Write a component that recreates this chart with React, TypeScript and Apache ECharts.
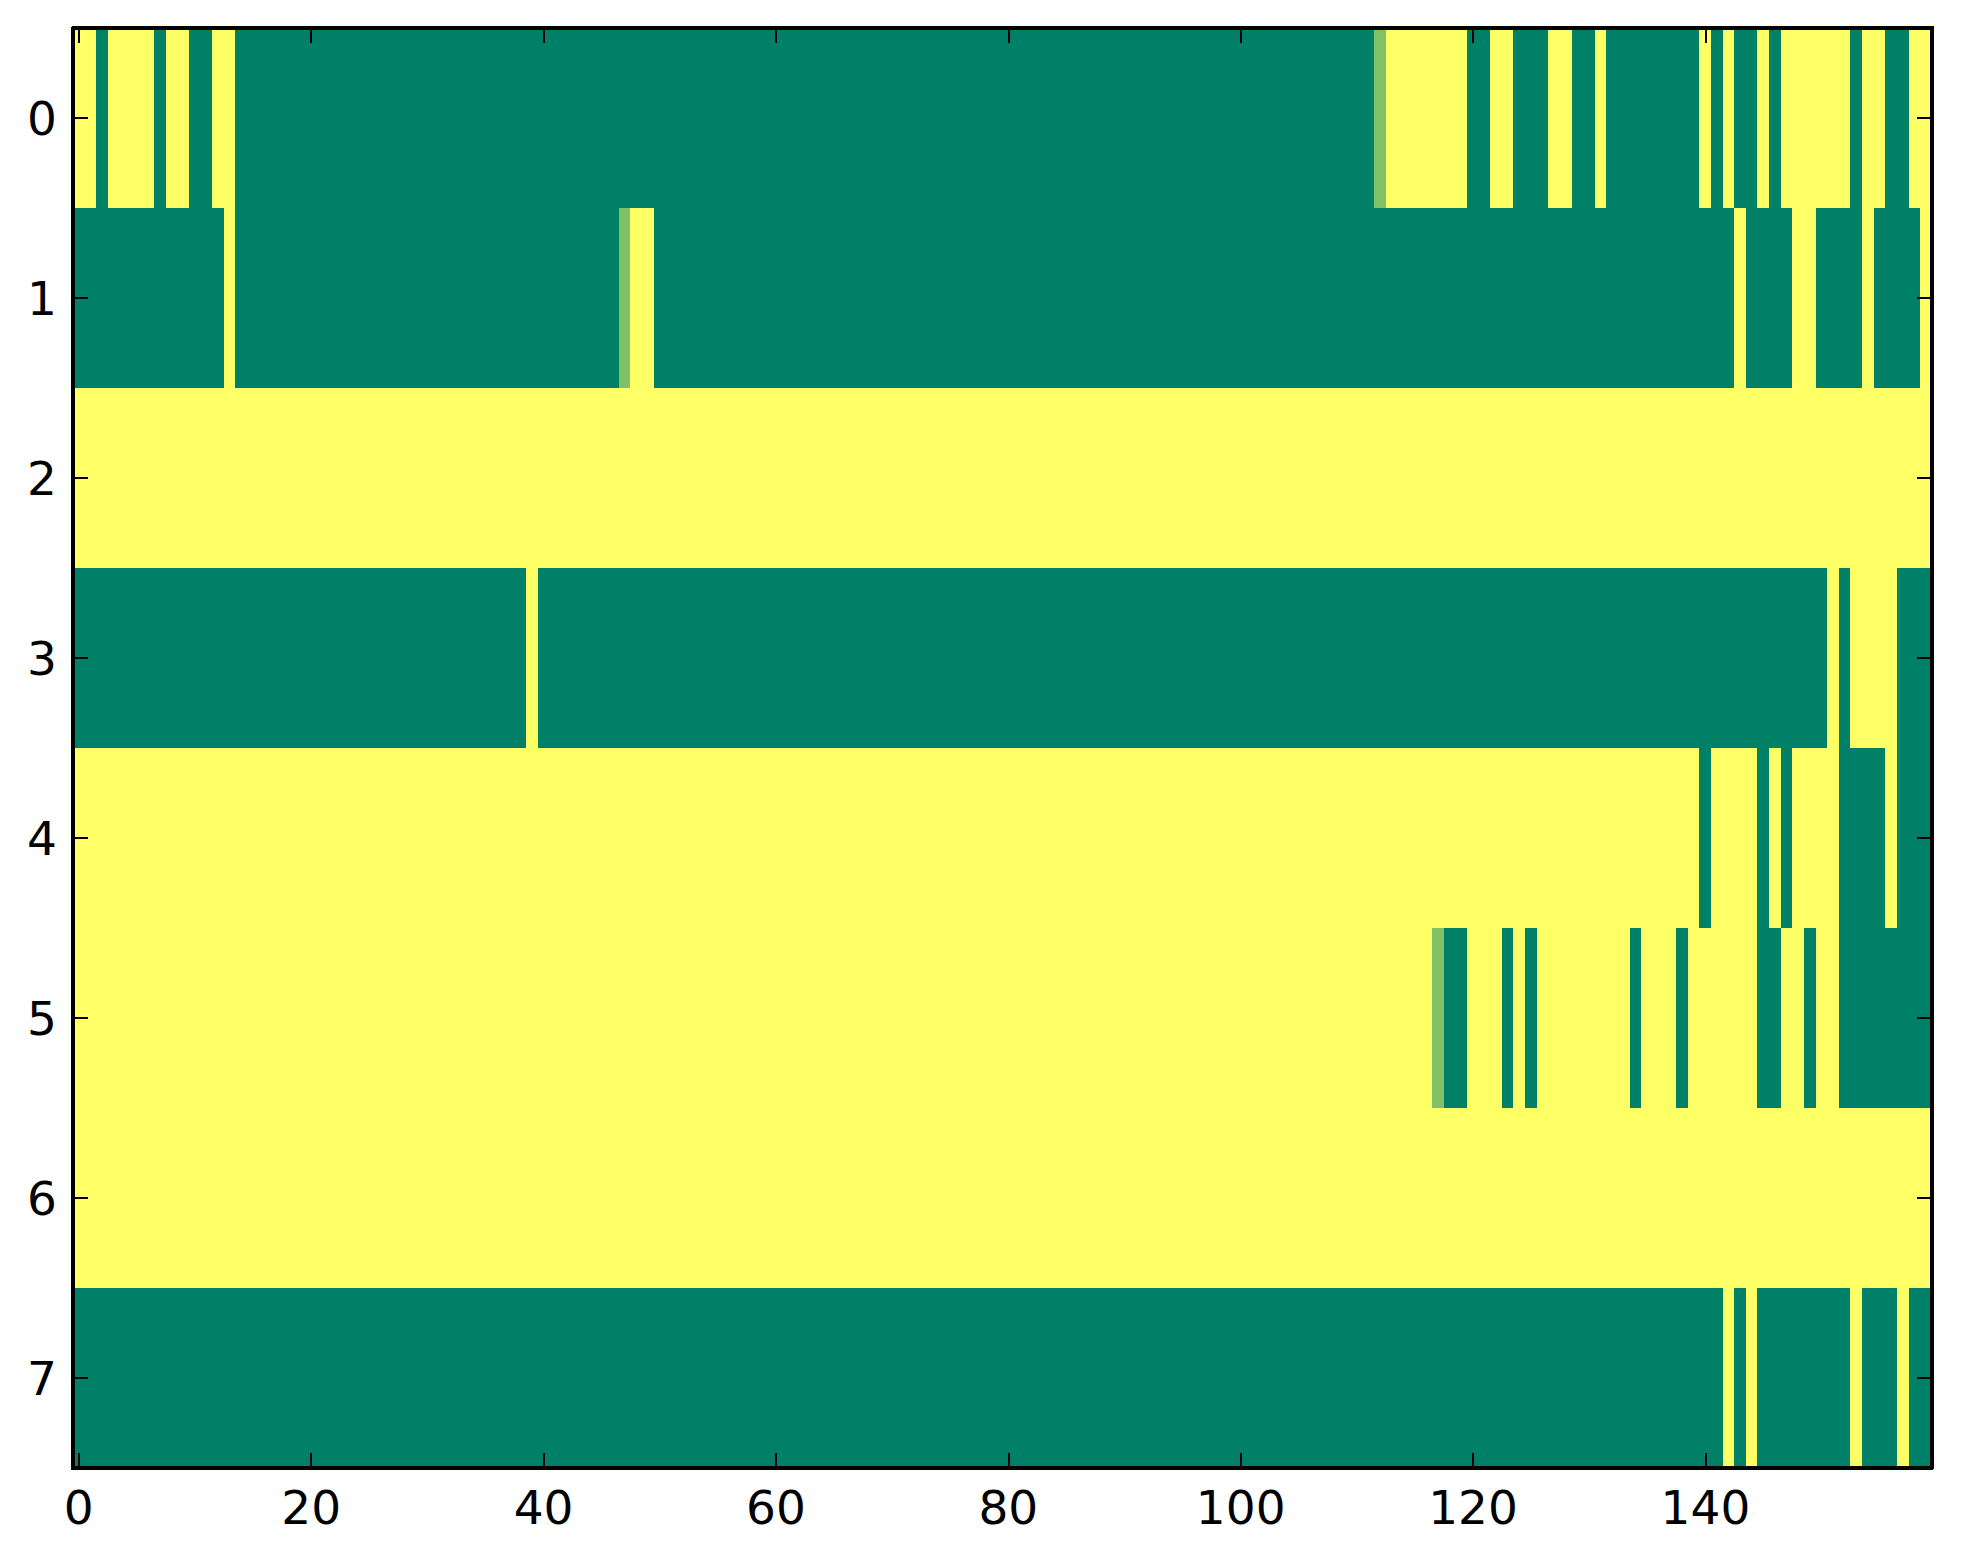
import React, { useEffect, useRef } from "react";
import * as echarts from "echarts";

// 160 columns (0..159), 8 rows (0..7). 1 = high (yellow), 0 = low (green), 0.5 = middle.
const xCategories: string[] = Array.from({ length: 160 }, (_, i) => String(i));
const yCategories: string[] = ["0", "1", "2", "3", "4", "5", "6", "7"];
const xTickLabels: number[] = [0, 20, 40, 60, 80, 100, 120, 140];

const row0: number[] = [
  1,1,0,1,1,1,1,0,1,1,0,0,1,1,0,0,0,0,0,0,
  0,0,0,0,0,0,0,0,0,0,0,0,0,0,0,0,0,0,0,0,
  0,0,0,0,0,0,0,0,0,0,0,0,0,0,0,0,0,0,0,0,
  0,0,0,0,0,0,0,0,0,0,0,0,0,0,0,0,0,0,0,0,
  0,0,0,0,0,0,0,0,0,0,0,0,0,0,0,0,0,0,0,0,
  0,0,0,0,0,0,0,0,0,0,0,0,0.5,1,1,1,1,1,1,1,
  0,0,1,1,0,0,0,1,1,0,0,1,0,0,0,0,0,0,0,0,
  1,0,1,0,0,1,0,1,1,1,1,1,1,0,1,1,0,0,1,1,
];
const row1: number[] = [
  0,0,0,0,0,0,0,0,0,0,0,0,0,1,0,0,0,0,0,0,
  0,0,0,0,0,0,0,0,0,0,0,0,0,0,0,0,0,0,0,0,
  0,0,0,0,0,0,0,0.5,1,1,0,0,0,0,0,0,0,0,0,0,
  0,0,0,0,0,0,0,0,0,0,0,0,0,0,0,0,0,0,0,0,
  0,0,0,0,0,0,0,0,0,0,0,0,0,0,0,0,0,0,0,0,
  0,0,0,0,0,0,0,0,0,0,0,0,0,0,0,0,0,0,0,0,
  0,0,0,0,0,0,0,0,0,0,0,0,0,0,0,0,0,0,0,0,
  0,0,0,1,0,0,0,0,1,1,0,0,0,0,1,0,0,0,0,1,
];
const row2: number[] = [
  1,1,1,1,1,1,1,1,1,1,1,1,1,1,1,1,1,1,1,1,
  1,1,1,1,1,1,1,1,1,1,1,1,1,1,1,1,1,1,1,1,
  1,1,1,1,1,1,1,1,1,1,1,1,1,1,1,1,1,1,1,1,
  1,1,1,1,1,1,1,1,1,1,1,1,1,1,1,1,1,1,1,1,
  1,1,1,1,1,1,1,1,1,1,1,1,1,1,1,1,1,1,1,1,
  1,1,1,1,1,1,1,1,1,1,1,1,1,1,1,1,1,1,1,1,
  1,1,1,1,1,1,1,1,1,1,1,1,1,1,1,1,1,1,1,1,
  1,1,1,1,1,1,1,1,1,1,1,1,1,1,1,1,1,1,1,1,
];
const row3: number[] = [
  0,0,0,0,0,0,0,0,0,0,0,0,0,0,0,0,0,0,0,0,
  0,0,0,0,0,0,0,0,0,0,0,0,0,0,0,0,0,0,0,1,
  0,0,0,0,0,0,0,0,0,0,0,0,0,0,0,0,0,0,0,0,
  0,0,0,0,0,0,0,0,0,0,0,0,0,0,0,0,0,0,0,0,
  0,0,0,0,0,0,0,0,0,0,0,0,0,0,0,0,0,0,0,0,
  0,0,0,0,0,0,0,0,0,0,0,0,0,0,0,0,0,0,0,0,
  0,0,0,0,0,0,0,0,0,0,0,0,0,0,0,0,0,0,0,0,
  0,0,0,0,0,0,0,0,0,0,0,1,0,1,1,1,1,0,0,0,
];
const row4: number[] = [
  1,1,1,1,1,1,1,1,1,1,1,1,1,1,1,1,1,1,1,1,
  1,1,1,1,1,1,1,1,1,1,1,1,1,1,1,1,1,1,1,1,
  1,1,1,1,1,1,1,1,1,1,1,1,1,1,1,1,1,1,1,1,
  1,1,1,1,1,1,1,1,1,1,1,1,1,1,1,1,1,1,1,1,
  1,1,1,1,1,1,1,1,1,1,1,1,1,1,1,1,1,1,1,1,
  1,1,1,1,1,1,1,1,1,1,1,1,1,1,1,1,1,1,1,1,
  1,1,1,1,1,1,1,1,1,1,1,1,1,1,1,1,1,1,1,1,
  0,1,1,1,1,0,1,0,1,1,1,1,0,0,0,0,1,0,0,0,
];
const row5: number[] = [
  1,1,1,1,1,1,1,1,1,1,1,1,1,1,1,1,1,1,1,1,
  1,1,1,1,1,1,1,1,1,1,1,1,1,1,1,1,1,1,1,1,
  1,1,1,1,1,1,1,1,1,1,1,1,1,1,1,1,1,1,1,1,
  1,1,1,1,1,1,1,1,1,1,1,1,1,1,1,1,1,1,1,1,
  1,1,1,1,1,1,1,1,1,1,1,1,1,1,1,1,1,1,1,1,
  1,1,1,1,1,1,1,1,1,1,1,1,1,1,1,1,1,0.5,0,0,
  1,1,1,0,1,0,1,1,1,1,1,1,1,1,0,1,1,1,0,1,
  1,1,1,1,1,0,0,1,1,0,1,1,0,0,0,0,0,0,0,0,
];
const row6: number[] = [
  1,1,1,1,1,1,1,1,1,1,1,1,1,1,1,1,1,1,1,1,
  1,1,1,1,1,1,1,1,1,1,1,1,1,1,1,1,1,1,1,1,
  1,1,1,1,1,1,1,1,1,1,1,1,1,1,1,1,1,1,1,1,
  1,1,1,1,1,1,1,1,1,1,1,1,1,1,1,1,1,1,1,1,
  1,1,1,1,1,1,1,1,1,1,1,1,1,1,1,1,1,1,1,1,
  1,1,1,1,1,1,1,1,1,1,1,1,1,1,1,1,1,1,1,1,
  1,1,1,1,1,1,1,1,1,1,1,1,1,1,1,1,1,1,1,1,
  1,1,1,1,1,1,1,1,1,1,1,1,1,1,1,1,1,1,1,1,
];
const row7: number[] = [
  0,0,0,0,0,0,0,0,0,0,0,0,0,0,0,0,0,0,0,0,
  0,0,0,0,0,0,0,0,0,0,0,0,0,0,0,0,0,0,0,0,
  0,0,0,0,0,0,0,0,0,0,0,0,0,0,0,0,0,0,0,0,
  0,0,0,0,0,0,0,0,0,0,0,0,0,0,0,0,0,0,0,0,
  0,0,0,0,0,0,0,0,0,0,0,0,0,0,0,0,0,0,0,0,
  0,0,0,0,0,0,0,0,0,0,0,0,0,0,0,0,0,0,0,0,
  0,0,0,0,0,0,0,0,0,0,0,0,0,0,0,0,0,0,0,0,
  0,0,1,0,1,0,0,0,0,0,0,0,0,1,0,0,0,1,0,0,
];
const rows: number[][] = [row0, row1, row2, row3, row4, row5, row6, row7];

const LOW = "#008066";
const HIGH = "#ffff66";

export default function App() {
  const ref = useRef<HTMLDivElement>(null);
  useEffect(() => {
    if (!ref.current) return;
    const chart = echarts.init(ref.current, undefined, { renderer: "svg" });
    const data: [number, number, number][] = [];
    rows.forEach((r, y) => r.forEach((v, x) => data.push([x, y, v])));
    const tickSet = new Set(xTickLabels.map(String));
    const font = { fontSize: 47, color: "#000", fontFamily: "DejaVu Sans" };
    const lineStyle = { color: "#000", width: 4 };
    const tickStyle = { color: "#000", width: 2 };
    const xShow = (_i: number, v: string) => tickSet.has(v);
    const xAxisBase = (pos: "bottom" | "top", labels: boolean) => ({
      type: "category",
      data: xCategories,
      position: pos,
      z: 10,
      axisLine: { show: true, onZero: false, lineStyle },
      axisTick: { show: true, inside: true, length: 15, alignWithLabel: true, interval: xShow, lineStyle: tickStyle },
      axisLabel: { show: labels, interval: xShow, margin: 16, ...font },
      splitLine: { show: false },
    });
    const yAxisBase = (pos: "left" | "right", labels: boolean) => ({
      type: "category",
      data: yCategories,
      position: pos,
      inverse: true,
      z: 10,
      axisLine: { show: true, onZero: false, lineStyle },
      axisTick: { show: true, inside: true, length: 15, alignWithLabel: true, interval: 0, lineStyle: tickStyle },
      axisLabel: { show: labels, interval: 0, margin: 16, ...font },
      splitLine: { show: false },
    });
    chart.setOption({
      animation: false,
      backgroundColor: "#fff",
      grid: { left: 73, top: 28, width: 1859, height: 1440, containLabel: false },
      xAxis: [xAxisBase("bottom", true), xAxisBase("top", false)],
      yAxis: [yAxisBase("left", true), yAxisBase("right", false)],
      visualMap: {
        show: false,
        min: 0,
        max: 1,
        dimension: 2,
        inRange: { color: [LOW, HIGH] },
      },
      series: [
        {
          type: "heatmap",
          xAxisIndex: 0,
          yAxisIndex: 0,
          data,
          itemStyle: { borderWidth: 0 },
          emphasis: { disabled: true },
        },
      ],
    });
    return () => chart.dispose();
  }, []);
  return (
    <>
      <style>{`.heat-root svg path { shape-rendering: crispEdges; }`}</style>
      <div
        ref={ref}
        className="heat-root"
        style={{ position: "fixed", left: 0, top: 0, width: 1963, height: 1564, background: "#fff" }}
      />
    </>
  );
}
